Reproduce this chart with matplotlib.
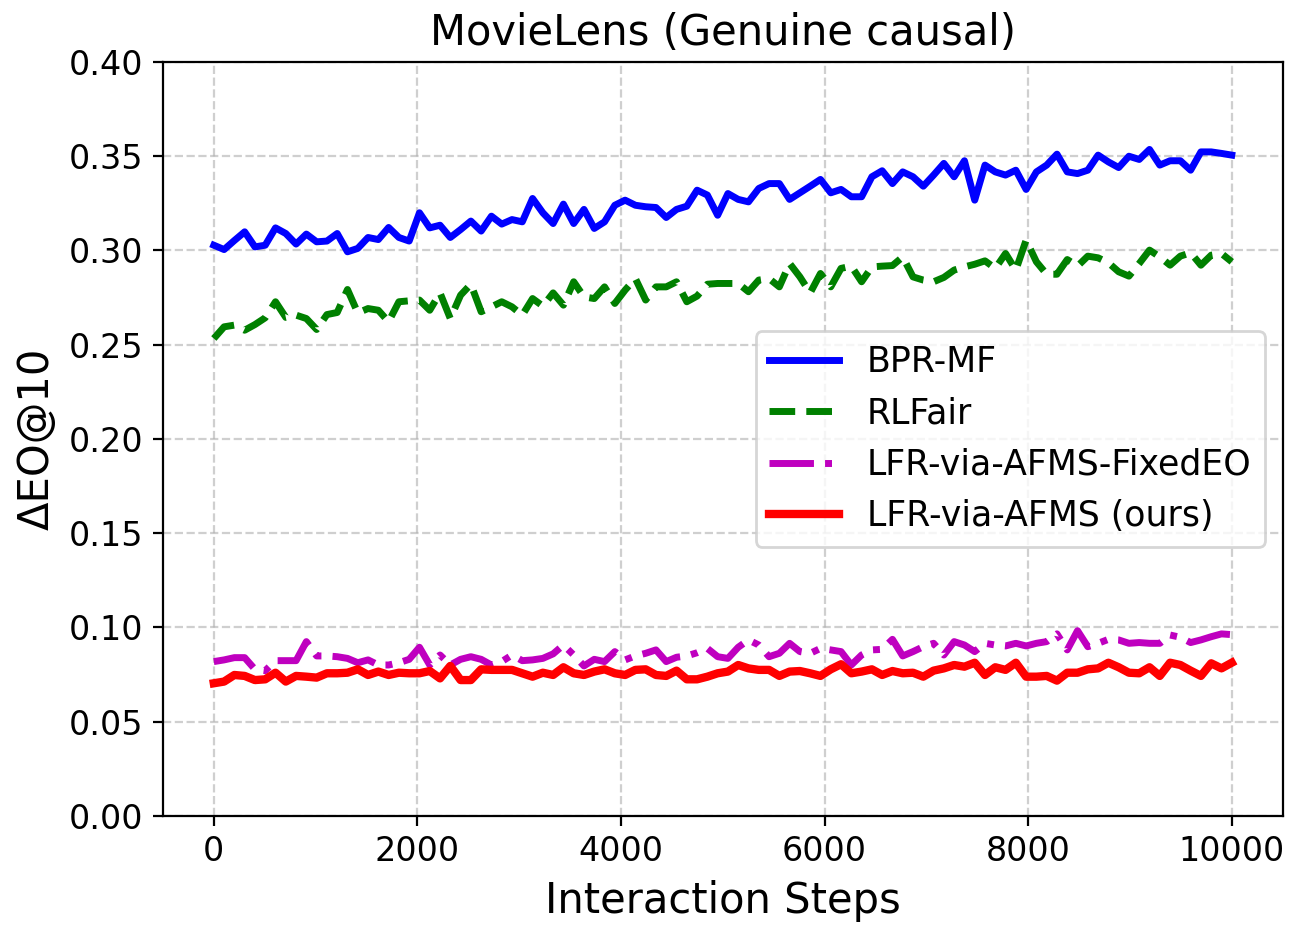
"""
MovieLens (Genuine causal) - Delta EO@10 over interaction steps
"""

import matplotlib
matplotlib.use("Agg")
import matplotlib.pyplot as plt
import numpy as np

###############################################################################
# Data (100 checkpoints over 10000 steps)
#

steps = np.linspace(0, 10000, 100)

bpr_mf = [
    0.3028, 0.3005, 0.3053, 0.3099, 0.3019, 0.3028, 0.3120, 0.3090, 0.3034, 0.3087,
    0.3046, 0.3050, 0.3090, 0.2993, 0.3011, 0.3069, 0.3058, 0.3122, 0.3069, 0.3050,
    0.3200, 0.3120, 0.3134, 0.3069, 0.3111, 0.3156, 0.3103, 0.3182, 0.3140, 0.3164,
    0.3152, 0.3276, 0.3200, 0.3143, 0.3246, 0.3143, 0.3218, 0.3117, 0.3152, 0.3240,
    0.3267, 0.3240, 0.3232, 0.3228, 0.3175, 0.3218, 0.3235, 0.3320, 0.3294, 0.3187,
    0.3302, 0.3271, 0.3258, 0.3329, 0.3355, 0.3355, 0.3271, 0.3306, 0.3341, 0.3377,
    0.3306, 0.3324, 0.3285, 0.3285, 0.3391, 0.3423, 0.3355, 0.3417, 0.3391, 0.3341,
    0.3400, 0.3462, 0.3391, 0.3476, 0.3267, 0.3453, 0.3417, 0.3400, 0.3426, 0.3324,
    0.3417, 0.3453, 0.3511, 0.3417, 0.3408, 0.3426, 0.3506, 0.3470, 0.3440, 0.3500,
    0.3483, 0.3536, 0.3453, 0.3476, 0.3476, 0.3426, 0.3523, 0.3523, 0.3515, 0.3506,
]

rlfair = [
    0.2533, 0.2595, 0.2604, 0.2577, 0.2607, 0.2643, 0.2728, 0.2645, 0.2657, 0.2639,
    0.2581, 0.2660, 0.2671, 0.2793, 0.2669, 0.2692, 0.2683, 0.2622, 0.2728, 0.2733,
    0.2737, 0.2683, 0.2775, 0.2639, 0.2763, 0.2821, 0.2675, 0.2701, 0.2728, 0.2701,
    0.2657, 0.2745, 0.2705, 0.2775, 0.2710, 0.2834, 0.2754, 0.2745, 0.2807, 0.2719,
    0.2790, 0.2851, 0.2737, 0.2807, 0.2807, 0.2834, 0.2728, 0.2758, 0.2821, 0.2825,
    0.2825, 0.2825, 0.2781, 0.2843, 0.2851, 0.2807, 0.2931, 0.2860, 0.2775, 0.2878,
    0.2807, 0.2905, 0.2917, 0.2834, 0.2913, 0.2917, 0.2920, 0.2966, 0.2860, 0.2843,
    0.2834, 0.2857, 0.2896, 0.2913, 0.2927, 0.2945, 0.2905, 0.2984, 0.2896, 0.3055,
    0.2940, 0.2874, 0.2874, 0.2952, 0.2917, 0.2970, 0.2961, 0.2935, 0.2887, 0.2864,
    0.2931, 0.3002, 0.2966, 0.2922, 0.2970, 0.2988, 0.2922, 0.2975, 0.2984, 0.2940,
]

lfr_fixed_eo = [
    0.0819, 0.0828, 0.0840, 0.0840, 0.0778, 0.0771, 0.0824, 0.0824, 0.0824, 0.0925,
    0.0849, 0.0849, 0.0845, 0.0836, 0.0813, 0.0828, 0.0801, 0.0801, 0.0813, 0.0831,
    0.0895, 0.0801, 0.0854, 0.0801, 0.0831, 0.0845, 0.0831, 0.0801, 0.0819, 0.0854,
    0.0824, 0.0828, 0.0836, 0.0860, 0.0907, 0.0854, 0.0796, 0.0831, 0.0819, 0.0872,
    0.0828, 0.0849, 0.0863, 0.0881, 0.0819, 0.0842, 0.0849, 0.0866, 0.0889, 0.0845,
    0.0836, 0.0895, 0.0934, 0.0907, 0.0845, 0.0863, 0.0916, 0.0872, 0.0863, 0.0889,
    0.0881, 0.0872, 0.0801, 0.0854, 0.0881, 0.0884, 0.0937, 0.0849, 0.0872, 0.0898,
    0.0916, 0.0854, 0.0925, 0.0907, 0.0872, 0.0916, 0.0907, 0.0902, 0.0916, 0.0902,
    0.0916, 0.0925, 0.0966, 0.0881, 0.0983, 0.0898, 0.0916, 0.0937, 0.0934, 0.0916,
    0.0920, 0.0916, 0.0916, 0.0960, 0.0948, 0.0920, 0.0934, 0.0951, 0.0966, 0.0962,
]

lfr_ours = [
    0.0704, 0.0713, 0.0748, 0.0743, 0.0721, 0.0725, 0.0760, 0.0713, 0.0743, 0.0739,
    0.0734, 0.0757, 0.0757, 0.0760, 0.0778, 0.0748, 0.0766, 0.0748, 0.0760, 0.0757,
    0.0757, 0.0769, 0.0730, 0.0796, 0.0721, 0.0721, 0.0778, 0.0775, 0.0775, 0.0775,
    0.0757, 0.0739, 0.0760, 0.0748, 0.0789, 0.0757, 0.0748, 0.0766, 0.0778, 0.0757,
    0.0748, 0.0775, 0.0778, 0.0748, 0.0743, 0.0771, 0.0725, 0.0725, 0.0739, 0.0757,
    0.0766, 0.0801, 0.0783, 0.0775, 0.0775, 0.0743, 0.0766, 0.0769, 0.0757, 0.0743,
    0.0778, 0.0805, 0.0757, 0.0766, 0.0778, 0.0748, 0.0769, 0.0757, 0.0760, 0.0739,
    0.0771, 0.0783, 0.0801, 0.0792, 0.0813, 0.0748, 0.0789, 0.0775, 0.0813, 0.0739,
    0.0739, 0.0743, 0.0718, 0.0760, 0.0760, 0.0778, 0.0783, 0.0813, 0.0789, 0.0760,
    0.0757, 0.0789, 0.0743, 0.0813, 0.0801, 0.0771, 0.0743, 0.0810, 0.0783, 0.0813,
]

###############################################################################
# Plot
#

figure = plt.figure(figsize=(6.465, 4.675), dpi=200)
axe = figure.add_axes([0.126, 0.1273, 0.866, 0.8064])

axe.plot(steps, bpr_mf, color="b", linestyle="-", linewidth=2.5, label="BPR-MF")
axe.plot(steps, rlfair, color="g", linestyle="--", linewidth=2.5, label="RLFair")
axe.plot(steps, lfr_fixed_eo, color="m", linestyle="-.", linewidth=2.5, label="LFR-via-AFMS-FixedEO")
axe.plot(steps, lfr_ours, color="r", linestyle="-", linewidth=3, label="LFR-via-AFMS (ours)")

axe.set_ylim(0.0, 0.4)
axe.set_yticks(np.arange(0.0, 0.401, 0.05))
axe.tick_params(axis="both", labelsize=12)
axe.grid(True, linestyle="--", alpha=0.6)

axe.set_title("MovieLens (Genuine causal)", fontsize=15)
axe.set_xlabel("Interaction Steps", fontsize=15)
axe.set_ylabel("ΔEO@10", fontsize=15)
axe.legend(loc="center right", fontsize=12.5)

figure.savefig("out.png", dpi=200)
